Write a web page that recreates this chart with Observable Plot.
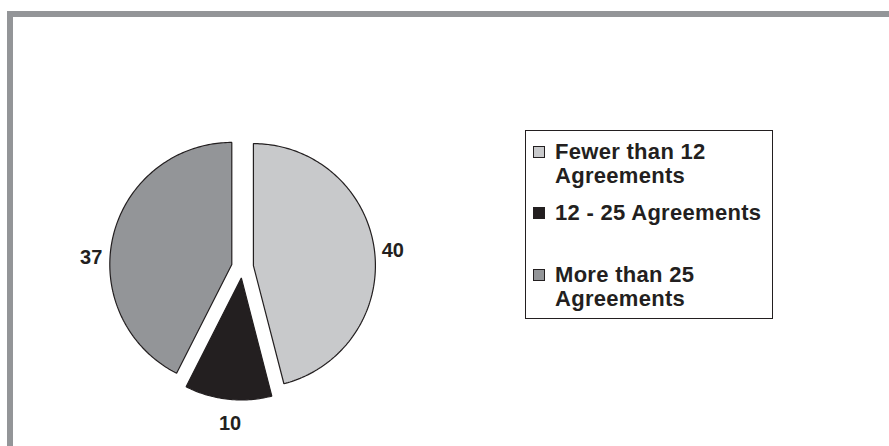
<!DOCTYPE html>
<html>
<head>
<meta charset="utf-8">
<script src="https://cdn.jsdelivr.net/npm/d3@7"></script>
<script src="https://cdn.jsdelivr.net/npm/@observablehq/plot@0.6"></script>
<style>
  html, body { margin: 0; padding: 0; background: #fff; }
  #chart { position: relative; width: 889px; height: 446px; overflow: hidden;
           font-family: "Liberation Sans", Arial, Helvetica, sans-serif; color: #231f20; }
  #frame { position: absolute; left: 7px; top: 11px; width: 900px; height: 460px; box-sizing: border-box;
           border-top: 6px solid #939598; border-left: 6px solid #939598; }
  #plot { position: absolute; left: 0; top: 0; }
  #legend { position: absolute; left: 525px; top: 130px; width: 248px; height: 189px; box-sizing: border-box;
            border: 1.5px solid #231f20; padding: 8.5px 0 0 7px; background: #fff; }
  .item { display: flex; align-items: flex-start; height: 61.5px; font-weight: bold;
          font-size: 22px; line-height: 24.5px; letter-spacing: 0.3px; }
  .swatch { flex: none; width: 12px; height: 12px; box-sizing: border-box; border: 1px solid #231f20;
            margin: 6px 10px 0 0; }
  .label { width: 214px; }
</style>
</head>
<body>
<div id="chart">
  <div id="frame"></div>
  <div id="plot"></div>
  <div id="legend"></div>
</div>
<script>
// Number of agreements per respondent group
const categories = ["Fewer than 12 Agreements", "12 - 25 Agreements", "More than 25 Agreements"];
const counts = [40, 10, 37];
const sliceColors = ["#c8c9cb", "#231f20", "#939598"];

// Pie layout: starts at 12 o'clock and runs clockwise
const R = 122, cx = 242, cy = 266.5;  // pixel centre and radius of the pie
const explode = 11 / R;               // every slice pulled out a little
const labelRadius = 1.25;
const labelNudge = {                  // pixel tweaks for the value labels
  "Fewer than 12 Agreements": [-1, 3],
  "12 - 25 Agreements": [4, 5],
  "More than 25 Agreements": [-3, 26]
};

const arcs = d3.pie().sort(null).value((d, i) => counts[i])(categories);

const outline = [];
const labels = [];
arcs.forEach((a, i) => {
  const category = categories[i];
  const mid = (a.startAngle + a.endAngle) / 2;
  const ox = explode * Math.sin(mid), oy = explode * Math.cos(mid);
  outline.push({category, x: ox, y: oy});
  const steps = Math.max(2, Math.ceil((a.endAngle - a.startAngle) / (Math.PI / 180)));
  for (let k = 0; k <= steps; ++k) {
    const t = a.startAngle + (a.endAngle - a.startAngle) * k / steps;
    outline.push({category, x: ox + Math.sin(t), y: oy + Math.cos(t)});
  }
  const [nx, ny] = labelNudge[category];
  labels.push({
    category,
    value: counts[i],
    x: labelRadius * Math.sin(mid) + nx / R,
    y: labelRadius * Math.cos(mid) - ny / R
  });
});

const plot = Plot.plot({
  width: 889,
  height: 446,
  margin: 0,
  style: {background: "transparent", overflow: "visible"},
  x: {domain: [-1, 1], range: [cx - R, cx + R], axis: null},
  y: {domain: [-1, 1], range: [cy + R, cy - R], axis: null},
  color: {domain: categories, range: sliceColors},
  marks: [
    Plot.line(outline, {
      x: "x", y: "y", z: "category", fill: "category",
      stroke: "#231f20", strokeWidth: 1.2, strokeLinejoin: "miter", curve: "linear-closed"
    }),
    Plot.text(labels, {
      x: "x", y: "y", text: d => String(d.value),
      fontSize: 20, fontWeight: "bold", fill: "#231f20",
      fontFamily: "Liberation Sans, Arial, sans-serif"
    })
  ]
});
document.getElementById("plot").appendChild(plot);

// Legend built from the same categories and colours
const legend = d3.select("#legend");
categories.forEach((c, i) => {
  const item = legend.append("div").attr("class", "item");
  item.append("span").attr("class", "swatch").style("background", sliceColors[i]);
  item.append("span").attr("class", "label").text(c);
});
</script>
</body>
</html>
